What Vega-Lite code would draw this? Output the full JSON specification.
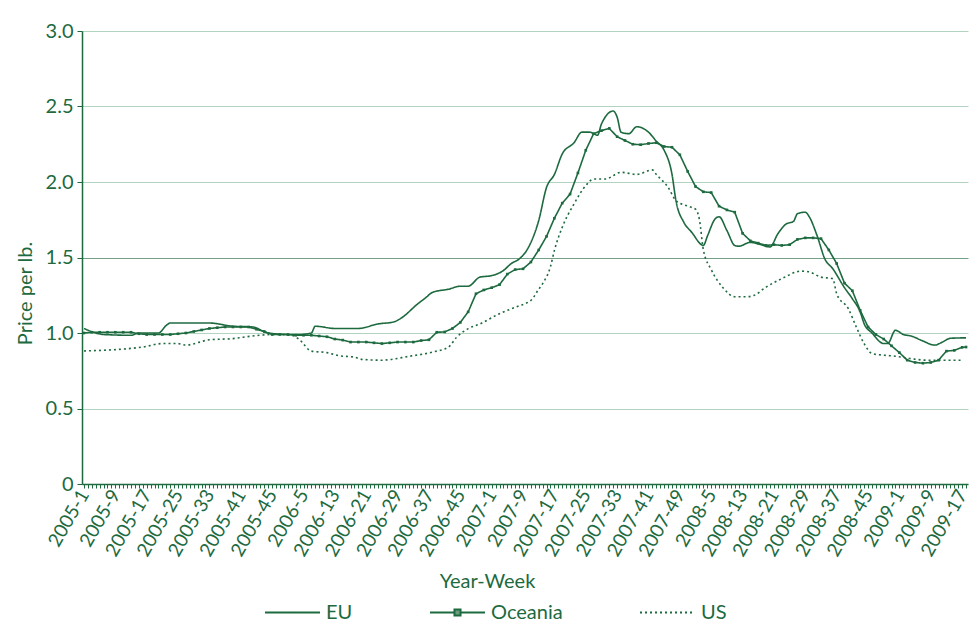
{
"$schema": "https://vega.github.io/schema/vega-lite/v6.json",
"width": 886, "height": 453,
"autosize": {"type": "none"},
"padding": {"left": 82, "top": 31, "right": 11, "bottom": 142},
"background": "white",
"config": {"view": {"stroke": null}, "font": "Lato"},
"data": {"values": [
{"s":"EU","w":0,"v":1.03},{"s":"EU","w":3,"v":1.0},{"s":"EU","w":5,"v":0.99},{"s":"EU","w":12,"v":0.985},{"s":"EU","w":14,"v":1.0},{"s":"EU","w":19,"v":1.0},{"s":"EU","w":21,"v":1.05},{"s":"EU","w":22,"v":1.066},{"s":"EU","w":32,"v":1.066},{"s":"EU","w":38,"v":1.045},{"s":"EU","w":43,"v":1.04},{"s":"EU","w":47,"v":1.0},{"s":"EU","w":53,"v":0.99},{"s":"EU","w":55,"v":0.99},{"s":"EU","w":58,"v":1.0},{"s":"EU","w":59,"v":1.045},{"s":"EU","w":64,"v":1.03},{"s":"EU","w":70,"v":1.03},{"s":"EU","w":75,"v":1.06},{"s":"EU","w":79,"v":1.073},{"s":"EU","w":81,"v":1.1},{"s":"EU","w":85,"v":1.19},{"s":"EU","w":87,"v":1.23},{"s":"EU","w":89,"v":1.27},{"s":"EU","w":93,"v":1.29},{"s":"EU","w":96,"v":1.31},{"s":"EU","w":98,"v":1.31},{"s":"EU","w":101,"v":1.37},{"s":"EU","w":104,"v":1.38},{"s":"EU","w":107,"v":1.414},{"s":"EU","w":109,"v":1.46},{"s":"EU","w":111,"v":1.49},{"s":"EU","w":113,"v":1.55},{"s":"EU","w":116,"v":1.745},{"s":"EU","w":118,"v":1.965},{"s":"EU","w":120,"v":2.05},{"s":"EU","w":122,"v":2.186},{"s":"EU","w":125,"v":2.26},{"s":"EU","w":127,"v":2.33},{"s":"EU","w":129,"v":2.33},{"s":"EU","w":131,"v":2.31},{"s":"EU","w":132,"v":2.384},{"s":"EU","w":135,"v":2.47},{"s":"EU","w":136,"v":2.43},{"s":"EU","w":137,"v":2.33},{"s":"EU","w":139,"v":2.32},{"s":"EU","w":141,"v":2.366},{"s":"EU","w":144,"v":2.33},{"s":"EU","w":146,"v":2.27},{"s":"EU","w":148,"v":2.21},{"s":"EU","w":150,"v":2.05},{"s":"EU","w":151,"v":1.877},{"s":"EU","w":153,"v":1.734},{"s":"EU","w":155,"v":1.668},{"s":"EU","w":158,"v":1.58},{"s":"EU","w":159,"v":1.64},{"s":"EU","w":161,"v":1.756},{"s":"EU","w":162,"v":1.77},{"s":"EU","w":164,"v":1.679},{"s":"EU","w":166,"v":1.58},{"s":"EU","w":167,"v":1.575},{"s":"EU","w":170,"v":1.6},{"s":"EU","w":172,"v":1.59},{"s":"EU","w":175,"v":1.57},{"s":"EU","w":177,"v":1.657},{"s":"EU","w":179,"v":1.72},{"s":"EU","w":181,"v":1.74},{"s":"EU","w":182,"v":1.79},{"s":"EU","w":184,"v":1.8},{"s":"EU","w":185,"v":1.77},{"s":"EU","w":187,"v":1.645},{"s":"EU","w":189,"v":1.49},{"s":"EU","w":191,"v":1.426},{"s":"EU","w":194,"v":1.3},{"s":"EU","w":196,"v":1.227},{"s":"EU","w":198,"v":1.139},{"s":"EU","w":199,"v":1.062},{"s":"EU","w":201,"v":1.0},{"s":"EU","w":204,"v":0.93},{"s":"EU","w":205,"v":0.93},{"s":"EU","w":207,"v":1.018},{"s":"EU","w":209,"v":0.99},{"s":"EU","w":211,"v":0.98},{"s":"EU","w":214,"v":0.947},{"s":"EU","w":217,"v":0.92},{"s":"EU","w":219,"v":0.94},{"s":"EU","w":221,"v":0.965},{"s":"EU","w":225,"v":0.968},
{"s":"Oceania","w":0,"v":1.0},{"s":"Oceania","w":2,"v":1.005},{"s":"Oceania","w":4,"v":1.005},{"s":"Oceania","w":6,"v":1.005},{"s":"Oceania","w":8,"v":1.005},{"s":"Oceania","w":10,"v":1.005},{"s":"Oceania","w":12,"v":1.005},{"s":"Oceania","w":14,"v":0.995},{"s":"Oceania","w":16,"v":0.99},{"s":"Oceania","w":18,"v":0.99},{"s":"Oceania","w":20,"v":0.99},{"s":"Oceania","w":22,"v":0.99},{"s":"Oceania","w":24,"v":0.995},{"s":"Oceania","w":26,"v":1.0},{"s":"Oceania","w":28,"v":1.01},{"s":"Oceania","w":30,"v":1.02},{"s":"Oceania","w":32,"v":1.03},{"s":"Oceania","w":34,"v":1.035},{"s":"Oceania","w":36,"v":1.04},{"s":"Oceania","w":38,"v":1.04},{"s":"Oceania","w":40,"v":1.04},{"s":"Oceania","w":42,"v":1.04},{"s":"Oceania","w":44,"v":1.025},{"s":"Oceania","w":46,"v":1.01},{"s":"Oceania","w":48,"v":0.99},{"s":"Oceania","w":50,"v":0.99},{"s":"Oceania","w":52,"v":0.99},{"s":"Oceania","w":54,"v":0.985},{"s":"Oceania","w":56,"v":0.985},{"s":"Oceania","w":58,"v":0.985},{"s":"Oceania","w":60,"v":0.98},{"s":"Oceania","w":62,"v":0.975},{"s":"Oceania","w":64,"v":0.96},{"s":"Oceania","w":66,"v":0.953},{"s":"Oceania","w":68,"v":0.94},{"s":"Oceania","w":70,"v":0.94},{"s":"Oceania","w":72,"v":0.94},{"s":"Oceania","w":74,"v":0.935},{"s":"Oceania","w":76,"v":0.93},{"s":"Oceania","w":78,"v":0.935},{"s":"Oceania","w":80,"v":0.94},{"s":"Oceania","w":82,"v":0.94},{"s":"Oceania","w":84,"v":0.94},{"s":"Oceania","w":86,"v":0.95},{"s":"Oceania","w":88,"v":0.955},{"s":"Oceania","w":90,"v":1.005},{"s":"Oceania","w":92,"v":1.007},{"s":"Oceania","w":94,"v":1.03},{"s":"Oceania","w":96,"v":1.07},{"s":"Oceania","w":98,"v":1.14},{"s":"Oceania","w":100,"v":1.26},{"s":"Oceania","w":102,"v":1.285},{"s":"Oceania","w":104,"v":1.3},{"s":"Oceania","w":106,"v":1.32},{"s":"Oceania","w":108,"v":1.39},{"s":"Oceania","w":110,"v":1.42},{"s":"Oceania","w":112,"v":1.425},{"s":"Oceania","w":114,"v":1.47},{"s":"Oceania","w":116,"v":1.55},{"s":"Oceania","w":118,"v":1.64},{"s":"Oceania","w":120,"v":1.76},{"s":"Oceania","w":122,"v":1.86},{"s":"Oceania","w":124,"v":1.92},{"s":"Oceania","w":126,"v":2.06},{"s":"Oceania","w":128,"v":2.21},{"s":"Oceania","w":130,"v":2.32},{"s":"Oceania","w":132,"v":2.34},{"s":"Oceania","w":134,"v":2.355},{"s":"Oceania","w":136,"v":2.3},{"s":"Oceania","w":138,"v":2.275},{"s":"Oceania","w":140,"v":2.25},{"s":"Oceania","w":142,"v":2.247},{"s":"Oceania","w":144,"v":2.255},{"s":"Oceania","w":146,"v":2.26},{"s":"Oceania","w":148,"v":2.235},{"s":"Oceania","w":150,"v":2.23},{"s":"Oceania","w":152,"v":2.18},{"s":"Oceania","w":154,"v":2.07},{"s":"Oceania","w":156,"v":1.97},{"s":"Oceania","w":158,"v":1.935},{"s":"Oceania","w":160,"v":1.93},{"s":"Oceania","w":162,"v":1.84},{"s":"Oceania","w":164,"v":1.815},{"s":"Oceania","w":166,"v":1.8},{"s":"Oceania","w":168,"v":1.66},{"s":"Oceania","w":170,"v":1.61},{"s":"Oceania","w":172,"v":1.595},{"s":"Oceania","w":174,"v":1.58},{"s":"Oceania","w":176,"v":1.585},{"s":"Oceania","w":178,"v":1.58},{"s":"Oceania","w":180,"v":1.585},{"s":"Oceania","w":182,"v":1.62},{"s":"Oceania","w":184,"v":1.63},{"s":"Oceania","w":186,"v":1.63},{"s":"Oceania","w":188,"v":1.625},{"s":"Oceania","w":190,"v":1.55},{"s":"Oceania","w":192,"v":1.46},{"s":"Oceania","w":194,"v":1.33},{"s":"Oceania","w":196,"v":1.28},{"s":"Oceania","w":198,"v":1.15},{"s":"Oceania","w":200,"v":1.04},{"s":"Oceania","w":202,"v":0.99},{"s":"Oceania","w":204,"v":0.96},{"s":"Oceania","w":206,"v":0.915},{"s":"Oceania","w":208,"v":0.87},{"s":"Oceania","w":210,"v":0.82},{"s":"Oceania","w":212,"v":0.805},{"s":"Oceania","w":214,"v":0.8},{"s":"Oceania","w":216,"v":0.805},{"s":"Oceania","w":218,"v":0.82},{"s":"Oceania","w":220,"v":0.88},{"s":"Oceania","w":222,"v":0.885},{"s":"Oceania","w":224,"v":0.905},{"s":"Oceania","w":225,"v":0.907},
{"s":"US","w":0,"v":0.881},{"s":"US","w":15,"v":0.907},{"s":"US","w":20,"v":0.93},{"s":"US","w":24,"v":0.93},{"s":"US","w":26,"v":0.92},{"s":"US","w":32,"v":0.955},{"s":"US","w":38,"v":0.963},{"s":"US","w":43,"v":0.98},{"s":"US","w":48,"v":0.99},{"s":"US","w":53,"v":0.985},{"s":"US","w":55,"v":0.955},{"s":"US","w":58,"v":0.88},{"s":"US","w":62,"v":0.87},{"s":"US","w":65,"v":0.85},{"s":"US","w":69,"v":0.84},{"s":"US","w":71,"v":0.825},{"s":"US","w":76,"v":0.82},{"s":"US","w":83,"v":0.846},{"s":"US","w":89,"v":0.874},{"s":"US","w":93,"v":0.907},{"s":"US","w":95,"v":0.97},{"s":"US","w":98,"v":1.029},{"s":"US","w":101,"v":1.06},{"s":"US","w":106,"v":1.128},{"s":"US","w":109,"v":1.16},{"s":"US","w":111,"v":1.18},{"s":"US","w":113,"v":1.2},{"s":"US","w":114,"v":1.216},{"s":"US","w":116,"v":1.29},{"s":"US","w":117,"v":1.327},{"s":"US","w":119,"v":1.44},{"s":"US","w":120,"v":1.547},{"s":"US","w":122,"v":1.7},{"s":"US","w":125,"v":1.855},{"s":"US","w":128,"v":1.976},{"s":"US","w":130,"v":2.02},{"s":"US","w":133,"v":2.02},{"s":"US","w":137,"v":2.064},{"s":"US","w":141,"v":2.05},{"s":"US","w":145,"v":2.08},{"s":"US","w":146,"v":2.05},{"s":"US","w":149,"v":1.965},{"s":"US","w":151,"v":1.877},{"s":"US","w":154,"v":1.84},{"s":"US","w":156,"v":1.82},{"s":"US","w":157,"v":1.75},{"s":"US","w":158,"v":1.55},{"s":"US","w":160,"v":1.42},{"s":"US","w":163,"v":1.3},{"s":"US","w":166,"v":1.24},{"s":"US","w":169,"v":1.24},{"s":"US","w":171,"v":1.25},{"s":"US","w":174,"v":1.304},{"s":"US","w":178,"v":1.36},{"s":"US","w":183,"v":1.41},{"s":"US","w":185,"v":1.405},{"s":"US","w":188,"v":1.37},{"s":"US","w":191,"v":1.36},{"s":"US","w":192,"v":1.26},{"s":"US","w":195,"v":1.16},{"s":"US","w":197,"v":1.04},{"s":"US","w":199,"v":0.93},{"s":"US","w":201,"v":0.864},{"s":"US","w":204,"v":0.853},{"s":"US","w":207,"v":0.846},{"s":"US","w":211,"v":0.83},{"s":"US","w":215,"v":0.82},{"s":"US","w":218,"v":0.82},{"s":"US","w":224,"v":0.82}
]},
"encoding": {
  "x": {"field": "w", "type": "quantitative",
    "scale": {"domain": [-0.5, 225.5], "nice": false, "zero": false},
    "axis": {"tickCount": 226, "grid": false,
      "labelExpr": "datum.value % 8 == 0 ? ['2005-1','2005-9','2005-17','2005-25','2005-33','2005-41','2005-45','2006-5','2006-13','2006-21','2006-29','2006-37','2006-45','2007-1','2007-9','2007-17','2007-25','2007-33','2007-41','2007-49','2008-5','2008-13','2008-21','2008-29','2008-37','2008-45','2009-1','2009-9','2009-17'][datum.value / 8] : ''",
      "labelAngle": -60, "labelAlign": "right", "labelBaseline": "middle", "labelFontSize": 19, "labelColor": "#1d6a3f", "labelFont": "Lato",
      "labelOverlap": false, "labelBound": false, "labelFlush": false, "labelPadding": 3,
      "tickSize": 4, "tickColor": "#1d6a3f", "domainColor": "#1d6a3f", "domainWidth": 1.5,
      "title": "Year-Week", "titleFont": "Lato", "titleFontSize": 20, "titleFontWeight": "normal", "titleColor": "#1d6a3f",
      "titleX": 405, "titleY": 97, "titleAlign": "center", "titleBaseline": "middle"}},
  "y": {"field": "v", "type": "quantitative",
    "scale": {"domain": [0, 3], "nice": false, "zero": true},
    "axis": {"values": [0, 0.5, 1, 1.5, 2, 2.5, 3],
      "labelExpr": "datum.value == 0 ? '0' : format(datum.value, '.1f')",
      "labelFontSize": 20, "labelColor": "#1d6a3f", "labelFont": "Lato", "labelPadding": 4,
      "tickSize": 5, "tickColor": "#1d6a3f", "domainColor": "#1d6a3f", "domainWidth": 1.5,
      "grid": true, "gridColor": {"condition": {"test": "datum.value == 1.5", "value": "#72a188"}, "value": "#b3d3c1"}, "gridWidth": 1,
      "title": "Price per lb.", "titleFont": "Lato", "titleFontSize": 20, "titleFontWeight": "normal", "titleColor": "#1d6a3f",
      "titleX": -57, "titleY": 262, "titleAngle": -90, "titleAlign": "center", "titleBaseline": "middle"}}
},
"layer": [
  {"transform": [{"filter": "datum.s != 'Oceania'"}],
   "mark": {"type": "line", "interpolate": "monotone", "strokeWidth": 1.6, "color": "#1d6a3f"},
   "encoding": {"strokeDash": {"field": "s", "type": "nominal",
     "scale": {"domain": ["EU", "Oceania", "US"], "range": [[1, 0], [1, 0], [2, 3]]},
     "legend": {"title": null, "orient": "none", "legendX": 182, "legendY": 553, "direction": "horizontal", "columns": 3,
       "gridAlign": "none", "columnPadding": 73, "symbolType": "stroke", "symbolSize": 3025, "symbolStrokeWidth": 2,
       "symbolStrokeColor": "#1d6a3f", "labelFontSize": 20, "labelFont": "Lato", "labelColor": "#1d6a3f", "labelOffset": 5,
       "encode": {"symbols": {"update": {
         "shape": {"signal": "datum.value === 'Oceania' ? 'M-1,0H-0.11M0.11,0H1M-0.11,-0.11H0.11V0.11H-0.11Z' : 'stroke'"},
         "stroke": {"value": "#1d6a3f"},
         "strokeWidth": {"value": 2},
         "opacity": {"value": 1},
         "fill": {"signal": "datum.value === 'Oceania' ? '#6f9a82' : 'transparent'"}}}}}}}},
  {"transform": [{"filter": "datum.s == 'Oceania'"}],
   "mark": {"type": "line", "strokeWidth": 1.6, "color": "#1d6a3f"},
   "encoding": {"strokeDash": {"field": "s", "type": "nominal"}}},
  {"transform": [{"filter": "datum.s == 'Oceania'"}],
   "mark": {"type": "point", "shape": "square", "filled": true, "size": 7, "color": "#1d6a3f", "opacity": 1},
   "encoding": {}}
]
}
